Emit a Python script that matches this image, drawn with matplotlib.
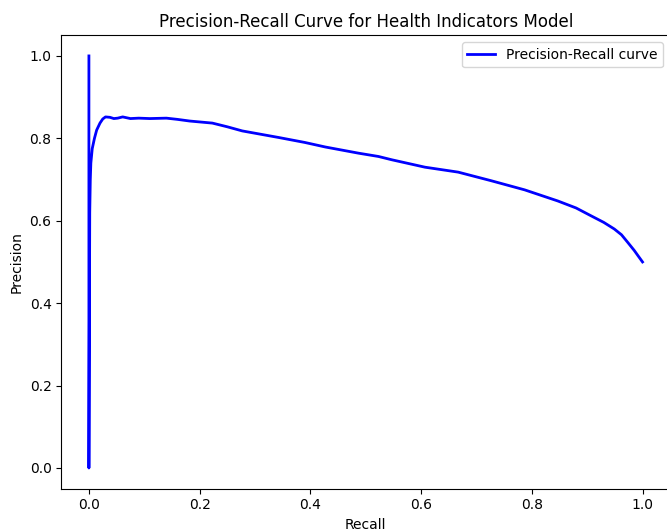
import matplotlib
matplotlib.use("Agg")
import matplotlib.pyplot as plt

recall = [0.0, 0.0, 0.0015, 0.0025, 0.0035, 0.006, 0.010, 0.014, 0.020, 0.025, 0.030,
          0.038, 0.045, 0.052, 0.061, 0.075, 0.090, 0.110, 0.140, 0.160, 0.182,
          0.223, 0.250, 0.277, 0.310, 0.343, 0.390, 0.427, 0.487, 0.523, 0.547,
          0.607, 0.667, 0.727, 0.787, 0.847, 0.880, 0.907, 0.930, 0.949, 0.962,
          0.973, 0.985, 0.993, 1.0]
precision = [1.0, 0.0, 0.62, 0.70, 0.74, 0.775, 0.80, 0.82, 0.837, 0.847, 0.852,
             0.851, 0.848, 0.849, 0.852, 0.848, 0.849, 0.848, 0.849, 0.846, 0.842,
             0.837, 0.828, 0.818, 0.810, 0.802, 0.790, 0.779, 0.764, 0.756, 0.748,
             0.730, 0.718, 0.697, 0.675, 0.648, 0.631, 0.612, 0.596, 0.580, 0.566,
             0.548, 0.528, 0.513, 0.500]

fig = plt.figure(figsize=(6.67, 5.32), dpi=100)
ax = fig.add_axes([0.0918, 0.0816, 0.913, 0.852])
ax.plot(recall, precision, color="blue", lw=2, label="Precision-Recall curve")
ax.set_xlabel("Recall")
ax.set_ylabel("Precision")
ax.set_title("Precision-Recall Curve for Health Indicators Model")
ax.legend(loc="upper right")
fig.savefig("out.png", dpi=100)
